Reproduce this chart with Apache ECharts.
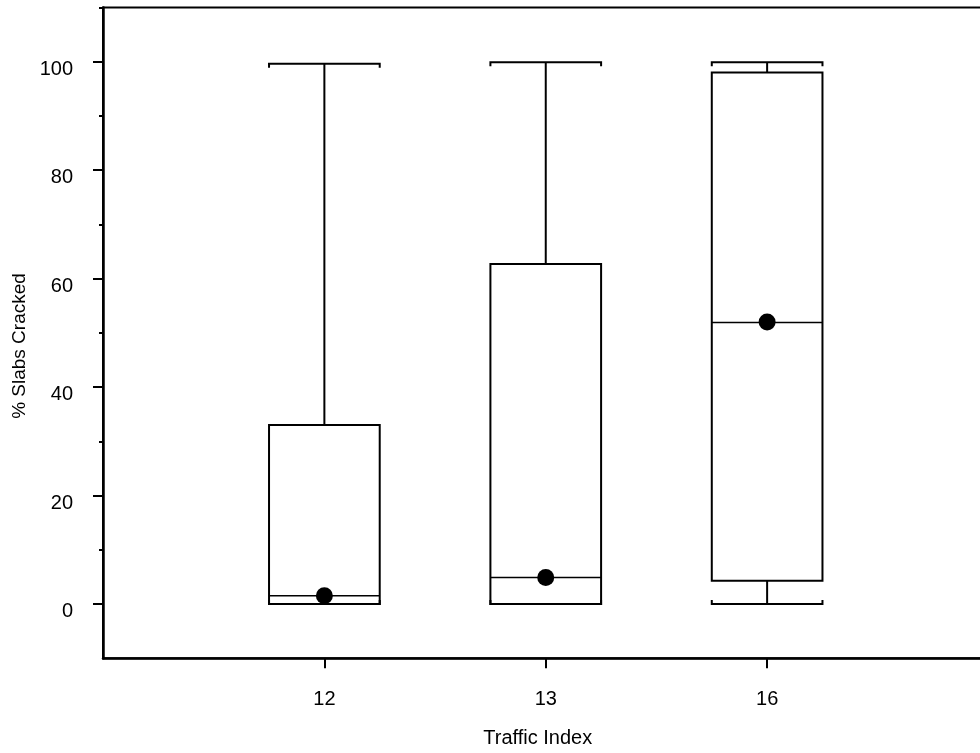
<!DOCTYPE html>
<html>
<head>
<meta charset="utf-8">
<script src="https://cdn.jsdelivr.net/npm/echarts@6/dist/echarts.min.js"></script>
<style>html,body{margin:0;padding:0;background:#fff;}#c{width:980px;height:753px;}</style>
</head>
<body>
<div id="c"></div>
<script>
// ---- data ----
var categories = ['12', '13', '16'];
var categoryPos = [1, 2, 3];
var whiskerLow = [0, 0, 0];
var q1 = [0, 0, 4.3];
var median = [1.5, 4.9, 51.9];
var q3 = [33.0, 62.7, 98.0];
var whiskerHigh = [99.6, 99.9, 99.9];
var mean = [1.5, 4.9, 52.0];
var yTickLabels = [0, 20, 40, 60, 80, 100];
var yMinorTicks = [10, 30, 50, 70, 90, 110];

var FONT = 'Liberation Sans, Arial, Helvetica, sans-serif';
var boxData = categories.map(function (c, i) {
  return [categoryPos[i], whiskerLow[i], q1[i], median[i], q3[i], whiskerHigh[i], mean[i]];
});

function renderItem(params, api) {
  var x = api.value(0);
  var lo = api.value(1), a = api.value(2), m = api.value(3), b = api.value(4), hi = api.value(5), mu = api.value(6);
  var half = api.size([0.5, 0])[0] / 2;
  var pLo = api.coord([x, lo]), pA = api.coord([x, a]), pM = api.coord([x, m]),
      pB = api.coord([x, b]), pHi = api.coord([x, hi]), pMu = api.coord([x, mu]);
  var cx = pA[0];
  var lw = 2, hook = 4;
  var st = { stroke: '#000', lineWidth: lw, fill: null };
  var children = [];
  children.push({ type: 'rect', shape: { x: cx - half, y: pB[1], width: 2 * half, height: pA[1] - pB[1] }, style: { stroke: '#000', lineWidth: lw, fill: 'none' } });
  children.push({ type: 'line', shape: { x1: cx - half, y1: pM[1], x2: cx + half, y2: pM[1] }, style: { stroke: '#000', lineWidth: 1.5 } });
  children.push({ type: 'line', shape: { x1: cx, y1: pB[1], x2: cx, y2: pHi[1] }, style: st });
  children.push({ type: 'polyline', shape: { points: [[cx - half, pHi[1] + hook], [cx - half, pHi[1]], [cx + half, pHi[1]], [cx + half, pHi[1] + hook]] }, style: st });
  children.push({ type: 'line', shape: { x1: cx, y1: pA[1], x2: cx, y2: pLo[1] }, style: st });
  children.push({ type: 'polyline', shape: { points: [[cx - half, pLo[1] - hook], [cx - half, pLo[1]], [cx + half, pLo[1]], [cx + half, pLo[1] - hook]] }, style: st });
  children.push({ type: 'circle', shape: { cx: pMu[0], cy: pMu[1], r: 8.5 }, style: { fill: '#000' } });
  return { type: 'group', children: children };
}

var chart = echarts.init(document.getElementById('c'), null, { renderer: 'canvas' });
chart.setOption({
  animation: false,
  backgroundColor: '#fff',
  grid: { left: 103, right: -8.5, top: 7.4, bottom: 94.8, containLabel: false, outerBoundsMode: 'none',
          show: true, borderColor: '#000', borderWidth: 2, backgroundColor: 'transparent' },
  xAxis: {
    type: 'value', min: 0, max: 4, interval: 1,
    splitLine: { show: false },
    axisLine: { show: true, onZero: false, lineStyle: { color: '#000', width: 2.5 } },
    axisTick: { show: true, length: 10, customValues: categoryPos, lineStyle: { color: '#000', width: 2 } },
    axisLabel: { customValues: categoryPos, margin: 31, color: '#000', fontSize: 20, fontFamily: FONT,
      formatter: function (v) { var i = categoryPos.indexOf(v); return i >= 0 ? categories[i] : ''; } },
    name: 'Traffic Index', nameLocation: 'middle', nameGap: 70,
    nameTextStyle: { color: '#000', fontSize: 20, fontFamily: FONT, padding: [0, 16, 0, 0] }
  },
  yAxis: [{
    type: 'value', min: -10, max: 110, interval: 10,
    splitLine: { show: false },
    axisLine: { show: true, onZero: false, lineStyle: { color: '#000', width: 2.5 } },
    axisTick: { show: true, length: 10, customValues: yTickLabels, lineStyle: { color: '#000', width: 2 } },
    axisLabel: { customValues: yTickLabels, margin: 30, color: '#000', fontSize: 20, fontFamily: FONT,
      verticalAlign: 'top', lineHeight: 15 }
  }, {
    type: 'value', min: -10, max: 110, interval: 10, position: 'left', offset: 0,
    splitLine: { show: false },
    axisLine: { show: false },
    axisTick: { show: true, length: 4, customValues: yMinorTicks, lineStyle: { color: '#000', width: 2 } },
    axisLabel: { show: false }
  }],
  graphic: [{
    type: 'text', x: 20, y: 346, rotation: Math.PI / 2,
    style: { text: '% Slabs Cracked', fill: '#000', fontSize: 19, fontFamily: FONT, align: 'center', verticalAlign: 'middle' }
  }],
  series: [{
    type: 'custom',
    renderItem: renderItem,
    encode: { x: 0, y: [1, 2, 3, 4, 5, 6] },
    data: boxData,
    clip: false
  }]
});
</script>
</body>
</html>
